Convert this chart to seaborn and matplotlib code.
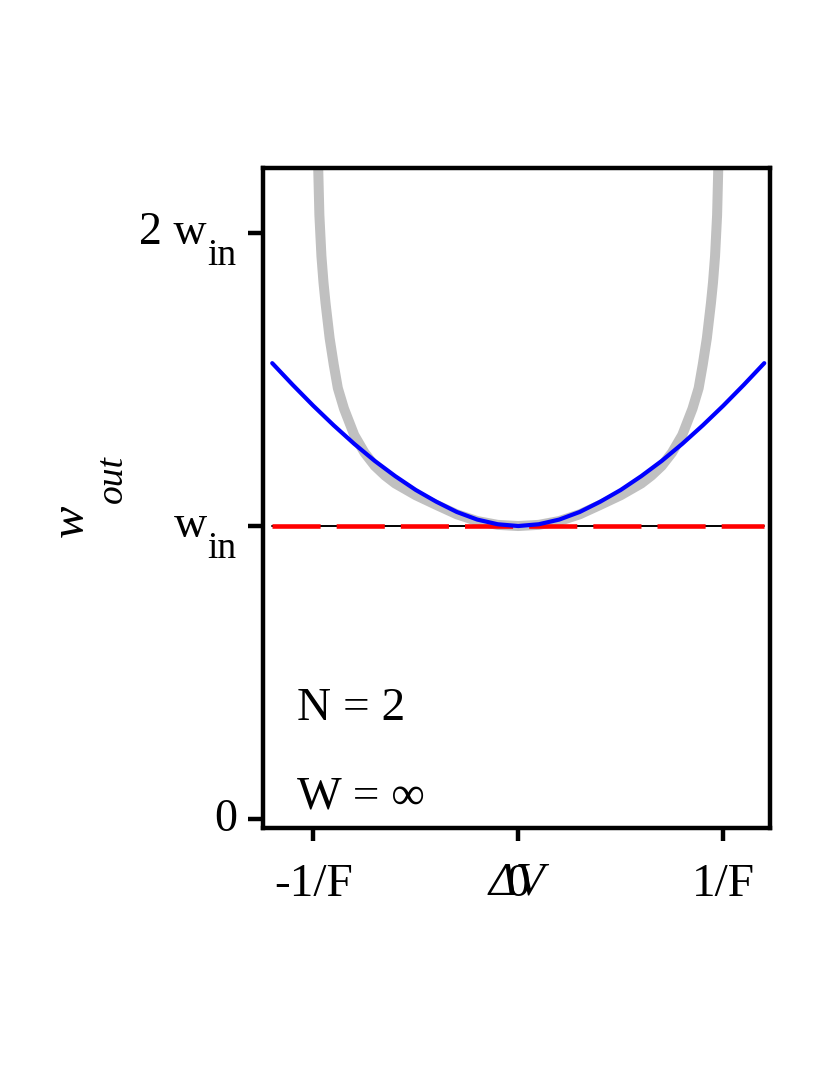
import numpy as np
import pandas as pd
import matplotlib
matplotlib.use("Agg")
import matplotlib.pyplot as plt
import matplotlib.transforms as mtransforms
import seaborn as sns

# ── data (x in units of 1/F, y in units of w_in) ──
gray_x_half = [0.0, 0.1, 0.2, 0.3, 0.4, 0.5, 0.6, 0.65, 0.7, 0.75, 0.8,
               0.85, 0.88, 0.9, 0.92, 0.94, 0.95, 0.96, 0.97, 0.975, 0.98,
               0.99]
gray_y_half = [1.0, 1.004, 1.017, 1.04, 1.072, 1.105, 1.145, 1.172, 1.205,
               1.25, 1.31, 1.40, 1.47, 1.55, 1.64, 1.76, 1.83, 1.92, 2.06,
               2.2, 2.35, 2.6]

blue_x_half = [0.0, 0.1, 0.2, 0.3, 0.4, 0.5, 0.6, 0.7, 0.8, 0.9, 1.0, 1.1, 1.2]
blue_y_half = [1.0, 1.006, 1.022, 1.048, 1.083, 1.123, 1.170, 1.222, 1.280,
               1.343, 1.410, 1.481, 1.555]

flat_x = [-1.2, 1.2]
flat_y = [1.0, 1.0]

x_ticks = [-1, 0, 1]
x_tick_labels = ["-1/F", "0", "1/F"]
y_ticks = [0, 1, 2]
y_tick_labels = ["0", "w", "2 w"]
y_tick_subs = ["", "in", "in"]

annotations = ["N = 2", "W = ∞"]


def mirror(xs, ys):
    # curves are symmetric about dV = 0
    x = [-v for v in xs[:0:-1]] + list(xs)
    y = list(ys[:0:-1]) + list(ys)
    return pd.DataFrame({"x": x, "y": y})


gray_df = mirror(gray_x_half, gray_y_half)
blue_df = mirror(blue_x_half, blue_y_half)

sns.set_theme(style="white")
plt.rcParams["font.family"] = ["Liberation Serif", "DejaVu Serif"]
plt.rcParams.update({"text.color": "black", "axes.labelcolor": "black",
                     "xtick.color": "black", "ytick.color": "black"})

fig = plt.figure(figsize=(8.3, 10.75), dpi=100)
ax = fig.add_axes([263 / 830, 1 - 828 / 1075, 507 / 830, 660 / 1075])

sns.lineplot(data=gray_df, x="x", y="y", ax=ax, color="#c0c0c0",
             linewidth=7.2, estimator=None, sort=False,
             solid_joinstyle="round")
sns.lineplot(x=flat_x, y=flat_y, ax=ax, color="black", linewidth=1.4,
             estimator=None)
sns.lineplot(x=flat_x, y=flat_y, ax=ax, color="#ff0000", linewidth=3.3,
             linestyle=(0, (10.5, 3.5)), estimator=None)
sns.lineplot(data=blue_df, x="x", y="y", ax=ax, color="#0000ff",
             linewidth=3.0, estimator=None, sort=False,
             solid_joinstyle="round")

ax.set_xlim(-1.245, 1.228)
ax.set_ylim(-0.029, 2.22)

for s in ax.spines.values():
    s.set_color("black")
    s.set_linewidth(3.2)

ax.set_xticks(x_ticks, labels=x_tick_labels, fontsize=34)
ax.set_yticks(y_ticks, labels=y_tick_labels, fontsize=33)
ax.tick_params(axis="x", direction="out", length=9.5, width=3.2, pad=16,
               bottom=True, color="black", labelcolor="black")
ax.tick_params(axis="y", direction="out", length=10.8, width=3.2, pad=8,
               left=True, color="black", labelcolor="black")
for lab in ax.get_yticklabels():
    lab.set_va("center")

# w labels move left to make room for the "in" subscript
ticks = ax.yaxis.get_major_ticks()
trans = mtransforms.blended_transform_factory(ax.transAxes, ax.transData)
for tick, val, sub in zip(ticks, y_ticks, y_tick_subs):
    if sub:
        tick.label1.set_x(-30 / 507)
        ax.text((207 - 263) / 507, val - 0.109, sub, transform=trans,
                ha="left", va="baseline", fontsize=27, clip_on=False)

ax.set_xlabel("ΔV", fontsize=34, fontstyle="italic")
ax.xaxis.set_label_coords(0.5, -0.052)

ax.set_ylabel("w", fontsize=35, fontstyle="italic", rotation=90)
ax.yaxis.set_label_coords(-0.336, 0.465)
ax.text(-0.278, 0.529, "out", transform=ax.transAxes, fontsize=27,
        fontstyle="italic", rotation=90, rotation_mode="anchor",
        ha="center", va="baseline", clip_on=False)

ax.text(-1.08, 0.339, annotations[0], fontsize=34, ha="left", va="baseline")
ax.text(-1.08, 0.039, annotations[1], fontsize=34, ha="left", va="baseline")

fig.savefig("out.png", dpi=100)
